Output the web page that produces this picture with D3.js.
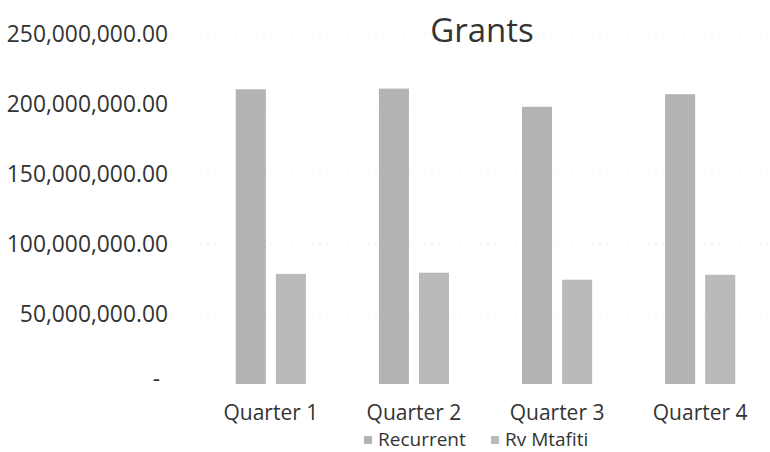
<!DOCTYPE html>
<html>
<head>
<meta charset="utf-8">
<script src="https://cdn.jsdelivr.net/npm/d3@7"></script>
<style>
  html, body { margin: 0; padding: 0; background: #fff; }
  svg { display: block; }
  text { font-family: "Open Sans", sans-serif; fill: #333; }
</style>
</head>
<body>
<svg id="chart" width="770" height="452"></svg>
<script>
// Quarterly grant amounts
const quarters = ["Quarter 1", "Quarter 2", "Quarter 3", "Quarter 4"];
const seriesNames = ["Recurrent", "Rv Mtafiti"];
const recurrent = [210500000, 211000000, 198000000, 207000000];
const rvMtafiti = [78600000, 79500000, 74500000, 78000000];
const yTicks = [0, 50000000, 100000000, 150000000, 200000000, 250000000];
const seriesColors = ["#b3b2b4", "#bab9bb"];

const rows = quarters.map((q, i) => ({ quarter: q, values: [recurrent[i], rvMtafiti[i]] }));

const svg = d3.select("#chart");
const plot = { left: 200, right: 771, top: 34, bottom: 384 };

const x = d3.scaleBand().domain(quarters).range([plot.left, plot.right]).paddingInner(0.51).paddingOuter(0.25);
const xs = d3.scaleBand().domain(seriesNames).range([0, x.bandwidth()]).paddingInner(0.25);
const y = d3.scaleLinear().domain([0, 250000000]).range([plot.bottom, plot.top]);

// faint dotted gridlines
svg.append("g")
  .selectAll("line")
  .data(yTicks.filter(d => d > 0))
  .join("line")
  .attr("x1", plot.left).attr("x2", plot.right)
  .attr("y1", d => y(d)).attr("y2", d => y(d))
  .attr("stroke", "#eeeeee")
  .attr("stroke-width", 1)
  .attr("stroke-dasharray", "2,5");

// value axis labels
const fmt = d => d === 0 ? "-" : d3.format(",.2f")(d);
const yAxis = d3.axisLeft(y).tickValues(yTicks).tickFormat(fmt).tickSize(0).tickPadding(0);
const gy = svg.append("g").attr("transform", "translate(168,0)").call(yAxis);
gy.select(".domain").remove();
gy.selectAll("text")
  .style("font-size", "22.8px")
  .style("font-family", "'Open Sans', sans-serif")
  .attr("fill", "#333");
gy.selectAll(".tick").filter(d => d === 0).select("text").attr("dx", -8).attr("dy", "0.1em");

// bars
const groups = svg.append("g")
  .selectAll("g")
  .data(rows)
  .join("g")
  .attr("transform", d => `translate(${x(d.quarter)},0)`);

groups.selectAll("rect")
  .data(d => d.values.map((v, j) => ({ name: seriesNames[j], value: v, j })))
  .join("rect")
  .attr("x", d => xs(d.name))
  .attr("width", xs.bandwidth())
  .attr("y", d => y(d.value))
  .attr("height", d => y(0) - y(d.value))
  .attr("fill", d => seriesColors[d.j]);

// category labels
const xAxis = d3.axisBottom(x).tickSize(0).tickPadding(0);
const gx = svg.append("g").attr("transform", `translate(0,${plot.bottom + 21})`).call(xAxis);
gx.select(".domain").remove();
gx.selectAll("text")
  .style("font-size", "21px")
  .style("font-family", "'Open Sans', sans-serif")
  .attr("fill", "#333")
  .attr("dy", "0.71em");

// title
svg.append("text")
  .attr("x", 482).attr("y", 42)
  .attr("text-anchor", "middle")
  .style("font-size", "33px")
  .attr("fill", "#3a3a3a")
  .text("Grants");

// legend
const legendX = [364, 491];
const legend = svg.append("g")
  .selectAll("g")
  .data(seriesNames)
  .join("g")
  .attr("transform", (d, i) => `translate(${legendX[i]},440)`);
legend.append("rect")
  .attr("x", 0).attr("y", -4).attr("width", 8).attr("height", 8)
  .attr("fill", (d, i) => seriesColors[i]);
legend.append("text")
  .attr("x", 14).attr("y", 6)
  .style("font-size", "19px")
  .attr("fill", "#333")
  .text(d => d);
</script>
</body>
</html>
